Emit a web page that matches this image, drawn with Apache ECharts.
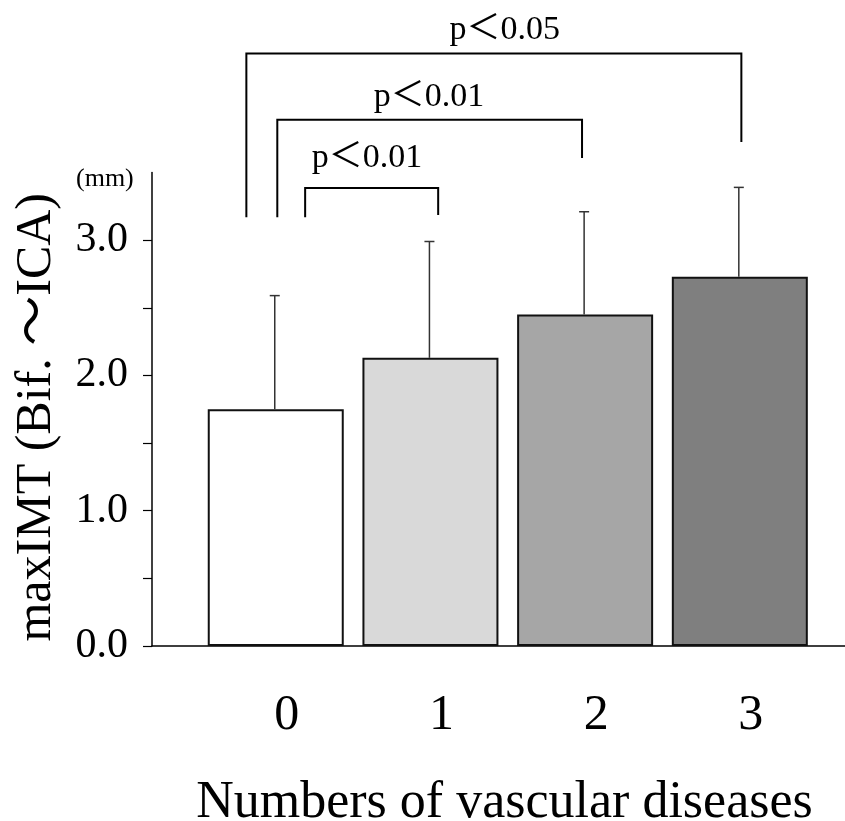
<!DOCTYPE html>
<html>
<head>
<meta charset="utf-8">
<script src="https://cdn.jsdelivr.net/npm/echarts@6/dist/echarts.min.js"></script>
<style>
  html, body { margin: 0; padding: 0; background: #fff; }
  #chart { width: 845px; height: 821px; }
</style>
</head>
<body>
<div id="chart"></div>
<script>
// Group labels and mean maxIMT (mm) with the upper end of the SD whisker
const categories = ['0', '1', '2', '3'];
const means = [1.75, 2.13, 2.45, 2.73];
const upperSD = [2.59, 2.99, 3.21, 3.39];
const barColors = ['#ffffff', '#d9d9d9', '#a6a6a6', '#7f7f7f'];

// Y axis ticks (mm)
const yTickValues = [0, 0.5, 1.0, 1.5, 2.0, 2.5, 3.0];
const yLabelValues = [0, 1.0, 2.0, 3.0];

// Significance brackets, in axis units
const bracketFrom = [-0.19, 0.01, 0.19];
const bracketTo = [3.01, 1.98, 1.05];
const bracketTop = [4.38, 3.89, 3.385];
const bracketLeftFoot = [3.17, 3.17, 3.17];
const bracketRightFoot = [3.725, 3.607, 3.186];
const bracketLabelX = [1.48, 0.99, 0.59];
const bracketLabelY = [4.55, 4.06, 3.61];
const bracketText = ['p＜0.05', 'p＜0.01', 'p＜0.01'];

const SERIF = '"Liberation Serif", "Times New Roman", "Noto Sans CJK JP", serif';

const chart = echarts.init(document.getElementById('chart'), null, { renderer: 'canvas' });

chart.setOption({
  animation: false,
  backgroundColor: '#fff',
  title: {
    text: '(mm)',
    left: 76,
    top: 166,
    padding: 0,
    textStyle: { fontFamily: SERIF, fontSize: 26, fontWeight: 'normal', color: '#000' }
  },
  grid: {
    left: 152, right: 0, top: 172.5, bottom: 175,
    containLabel: false,
    outerBoundsMode: 'none'
  },
  xAxis: {
    type: 'value',
    min: -0.8,
    max: 3.68,
    name: 'Numbers of vascular diseases',
    nameLocation: 'middle',
    nameGap: 131,
    nameTextStyle: { fontFamily: SERIF, fontSize: 52, color: '#000', padding: [0, 0, 0, 12] },
    axisLine: { show: true, onZero: false, lineStyle: { color: '#000', width: 1.5 } },
    axisTick: { show: false },
    splitLine: { show: false },
    axisLabel: {
      customValues: [0, 1, 2, 3],
      formatter: v => categories[Math.round(v)],
      fontFamily: SERIF,
      fontSize: 50,
      color: '#000',
      margin: 45,
      padding: [0, 0, 0, 22]
    }
  },
  yAxis: {
    type: 'value',
    min: 0,
    max: 3.5,
    interval: 0.5,
    name: 'maxIMT (Bif. ～ICA)',
    nameLocation: 'middle',
    nameGap: 90,
    nameTextStyle: { fontFamily: SERIF, fontSize: 50, color: '#000', padding: [0, 16, 0, 0] },
    axisLine: { show: true, onZero: false, lineStyle: { color: '#000', width: 1.5 } },
    axisTick: {
      show: true, inside: false, length: 9,
      customValues: yTickValues,
      lineStyle: { color: '#000', width: 1.2 }
    },
    splitLine: { show: false },
    axisLabel: {
      customValues: yLabelValues,
      formatter: v => v.toFixed(1),
      fontFamily: SERIF,
      fontSize: 42,
      color: '#000',
      margin: 24
    }
  },
  series: [
    {
      type: 'bar',
      barWidth: 136,
      data: means.map((m, i) => ({
        value: [i, m],
        itemStyle: { color: barColors[i], borderColor: '#111', borderWidth: 2 }
      })),
      z: 2
    },
    {
      // SD whiskers with a short cap
      type: 'custom',
      data: means.map((m, i) => [i, m, upperSD[i]]),
      encode: { x: 0, y: [1, 2] },
      z: 3,
      renderItem(params, api) {
        const base = api.coord([api.value(0), api.value(1)]);
        const top = api.coord([api.value(0), api.value(2)]);
        const x = base[0] - 1;
        const style = { stroke: '#333', lineWidth: 1.5 };
        return {
          type: 'group',
          children: [
            { type: 'line', shape: { x1: x, y1: base[1], x2: x, y2: top[1] }, style },
            { type: 'line', shape: { x1: x - 5, y1: top[1], x2: x + 5, y2: top[1] }, style }
          ]
        };
      }
    },
    {
      // Significance brackets drawn above the plot area
      type: 'custom',
      clip: false,
      silent: true,
      data: bracketFrom.map((f, i) => [f, bracketTop[i]]),
      encode: { x: 0, y: 1 },
      z: 4,
      renderItem(params, api) {
        const i = params.dataIndex;
        const bl = api.coord([bracketFrom[i], bracketLeftFoot[i]]);
        const tl = api.coord([bracketFrom[i], bracketTop[i]]);
        const tr = api.coord([bracketTo[i], bracketTop[i]]);
        const br = api.coord([bracketTo[i], bracketRightFoot[i]]);
        const t = api.coord([bracketLabelX[i], bracketLabelY[i]]);
        return {
          type: 'group',
          children: [
            {
              type: 'polyline',
              shape: { points: [bl, tl, tr, br] },
              style: { stroke: '#000', lineWidth: 2, fill: null }
            },
            {
              type: 'text',
              x: t[0],
              y: t[1],
              style: {
                text: bracketText[i],
                font: '34px ' + SERIF,
                fill: '#000',
                align: 'center',
                verticalAlign: 'middle'
              }
            }
          ]
        };
      }
    }
  ]
});
</script>
</body>
</html>
